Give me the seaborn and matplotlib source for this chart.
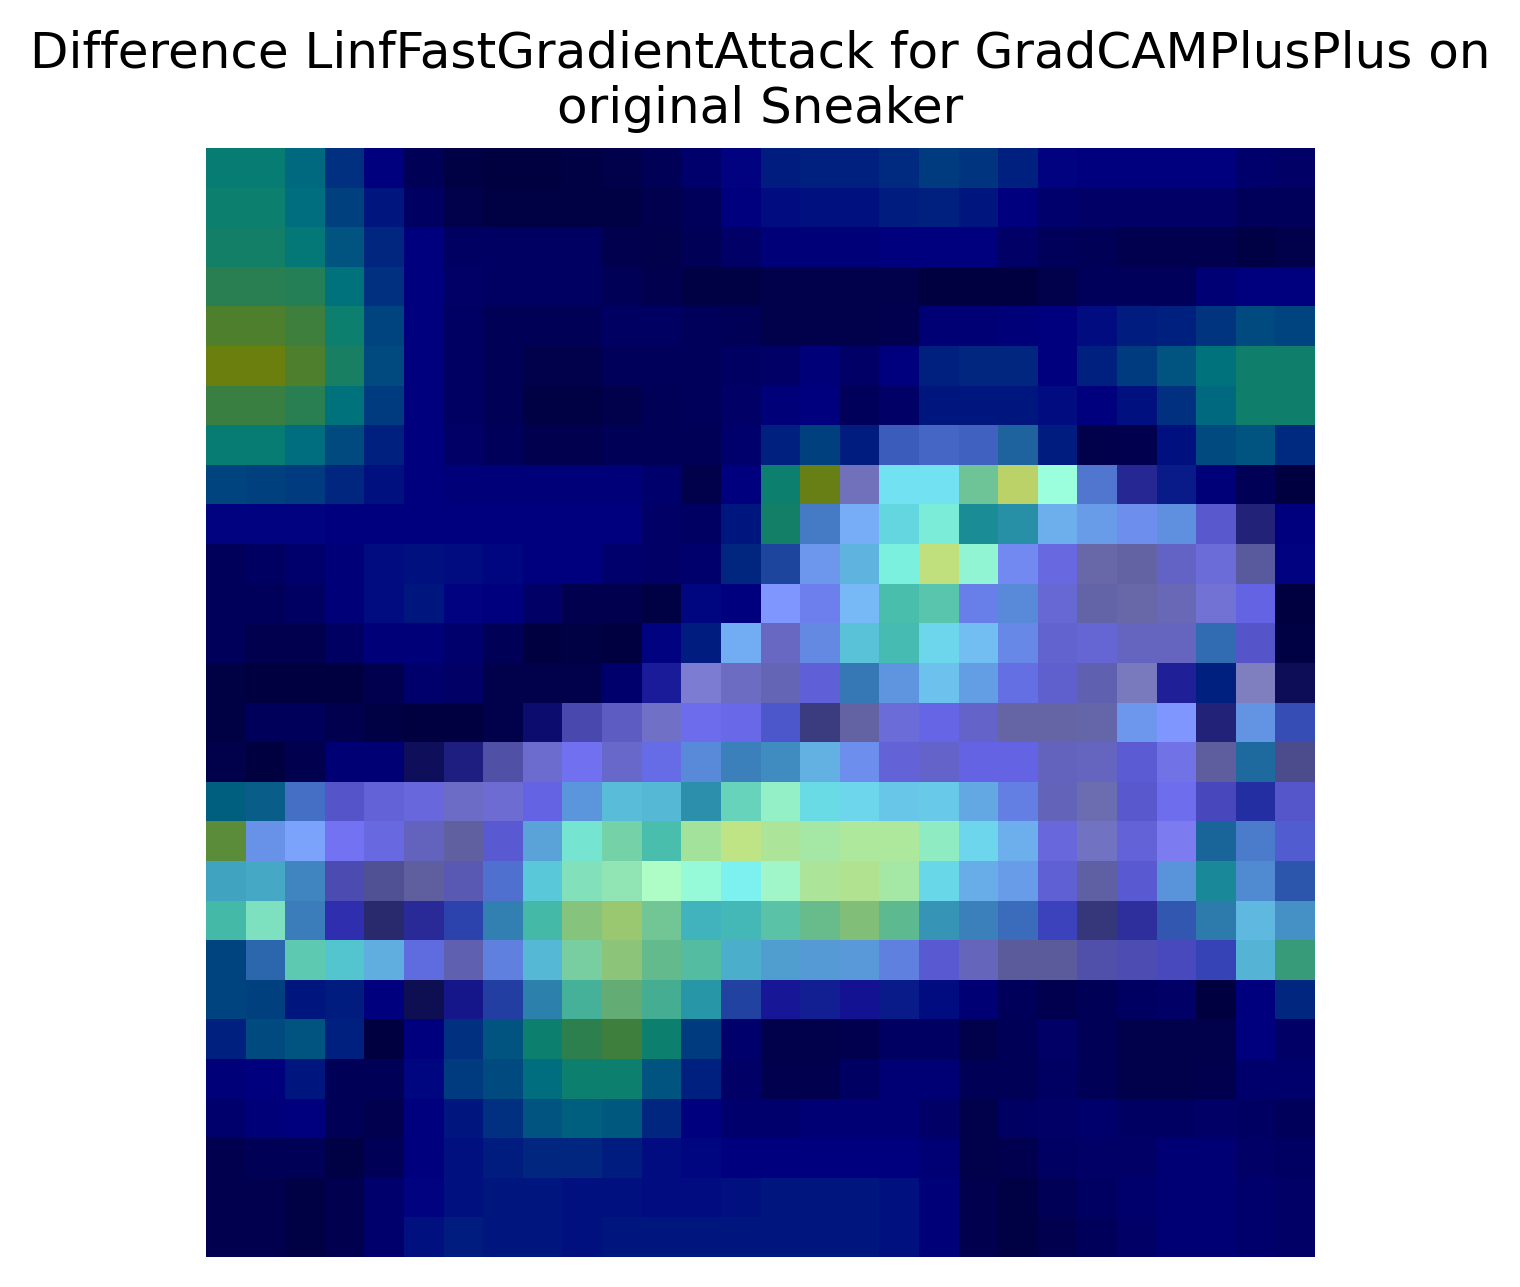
import matplotlib
matplotlib.use('Agg')
import matplotlib.pyplot as plt
import numpy as np
import seaborn as sns

title = 'Difference LinfFastGradientAttack for GradCAMPlusPlus on\noriginal Sneaker'

# Grad-CAM heat per cell (percent of the jet range)
heat = [
    [37,37,33,22,11,4,1,0,0,1,2,4,8,13,18,19,19,21,24,23,19,13,11,11,11,11,8,7],
    [38,38,34,25,17,6,2,1,1,1,1,3,5,11,15,16,16,18,19,17,11,8,7,7,7,7,5,5],
    [40,40,36,29,20,11,6,6,6,6,3,2,4,7,10,10,10,11,11,11,7,5,4,3,3,3,1,2],
    [45,45,44,35,22,11,7,6,6,6,4,3,1,1,2,2,2,2,0,0,0,2,5,5,5,9,11,11],
    [54,54,50,38,26,11,6,4,4,4,6,6,5,4,2,2,2,3,9,9,10,11,15,18,19,23,27,26],
    [61,61,54,41,27,11,6,4,2,2,5,5,5,6,7,10,7,11,19,20,20,12,19,24,29,35,39,39],
    [49,49,45,35,24,11,6,4,1,1,2,4,5,7,10,11,5,7,17,17,17,15,11,16,22,33,39,39],
    [37,37,34,27,19,11,7,5,3,3,4,4,4,8,19,25,18,19,19,19,26,18,2,3,16,27,29,21],
    [26,25,24,20,16,11,10,10,10,10,10,8,2,11,38,60,2,34,34,45,60,42,20,8,16,10,4,0],
    [13,13,13,12,12,11,11,11,11,11,11,7,6,17,40,23,23,35,39,35,33,25,23,19,22,9,4,11],
    [5,6,8,10,15,16,15,14,11,11,8,7,8,20,20,21,29,38,58,42,17,10,0,0,6,8,1,13],
    [5,5,6,10,15,17,13,11,7,3,3,1,14,11,17,16,25,38,40,17,22,8,1,0,3,6,11,0],
    [5,3,3,6,10,10,8,4,0,1,0,13,18,24,5,20,33,37,33,27,19,8,8,5,5,24,9,1],
    [1,0,0,0,3,8,7,2,2,2,8,13,4,4,3,10,25,23,29,24,15,8,3,1,10,19,0,2],
    [1,5,5,3,1,0,0,2,6,7,7,4,11,11,15,1,0,8,11,7,0,0,1,21,17,4,22,17],
    [2,0,3,9,9,2,6,4,6,11,6,14,22,26,27,28,19,9,7,11,11,5,5,10,9,0,27,0],
    [31,29,21,9,9,9,5,7,12,24,32,32,32,40,44,35,33,31,32,26,18,4,1,9,11,9,15,9],
    [54,21,20,12,10,5,0,10,27,39,44,38,51,57,52,50,52,52,44,33,25,9,3,9,9,27,22,15],
    [32,32,26,7,1,0,5,19,34,43,46,47,42,36,45,52,54,50,34,26,23,9,1,10,24,34,24,21],
    [38,42,25,11,1,8,17,28,38,51,55,46,35,36,41,46,51,44,31,26,22,14,1,8,20,28,30,27],
    [26,24,40,35,28,15,3,19,32,45,52,45,41,32,28,26,25,19,10,4,0,0,5,7,9,15,31,42],
    [26,25,17,18,11,1,9,18,29,40,48,41,34,19,12,15,12,16,15,9,5,3,4,6,7,0,11,20],
    [19,27,29,19,0,11,22,29,38,46,50,38,24,8,2,2,3,6,6,2,4,7,4,2,2,2,11,7],
    [10,12,17,4,4,14,24,27,34,38,38,29,19,7,3,3,6,9,9,4,4,6,4,2,2,3,8,8],
    [8,10,11,4,3,11,17,22,29,31,30,20,12,8,8,9,9,9,7,2,6,7,8,6,6,7,6,5],
    [3,4,4,1,4,11,16,18,20,20,18,15,14,12,12,12,12,12,9,2,3,6,7,7,9,9,7,6],
    [3,3,1,3,8,13,16,17,17,16,16,15,15,16,17,17,17,16,10,3,1,4,6,8,9,9,8,7],
    [3,3,1,3,8,16,18,17,17,16,17,17,17,17,17,17,17,16,10,3,1,3,5,7,9,9,8,7],
]

# Gray level of the underlying image (percent)
image = [
    [0,0,0,0,0,0,0,0,0,0,0,0,0,0,0,0,0,0,0,0,0,0,0,0,0,0,0,0],
    [0,0,0,0,0,0,0,0,0,0,0,0,0,0,0,0,0,0,0,0,0,0,0,0,0,0,0,0],
    [0,0,0,0,0,0,0,0,0,0,0,0,0,0,0,0,0,0,0,0,0,0,0,0,0,0,0,0],
    [0,0,0,0,0,0,0,0,0,0,0,0,0,0,0,0,0,0,0,0,0,0,0,0,0,0,0,0],
    [0,0,0,0,0,0,0,0,0,0,0,0,0,0,0,0,0,0,0,0,0,0,0,0,0,0,0,0],
    [0,0,0,0,0,0,0,0,0,0,0,0,0,0,0,0,0,0,0,0,0,0,0,0,0,0,0,0],
    [0,0,0,0,0,0,0,0,0,0,0,0,0,0,0,0,0,0,0,0,0,0,0,0,0,0,0,0],
    [0,0,0,0,0,0,0,0,0,0,0,0,0,0,0,0,0,47,55,51,24,0,0,0,0,0,0,0],
    [0,0,0,0,0,0,0,0,0,0,0,0,0,0,0,0,88,90,90,54,65,100,63,31,8,0,0,0],
    [0,0,0,0,0,0,0,0,0,0,0,0,0,0,0,55,94,78,85,20,31,86,82,86,75,70,27,0],
    [0,0,0,0,0,0,0,0,0,0,0,0,0,0,24,86,75,88,76,92,90,82,82,78,78,85,70,0],
    [0,0,0,0,0,0,0,0,0,0,0,0,0,0,100,86,94,49,55,82,70,82,78,82,82,90,78,0],
    [0,0,0,0,0,0,0,0,0,0,0,0,0,90,82,78,70,49,86,90,82,78,80,80,80,39,67,0],
    [0,0,0,0,0,0,0,0,0,0,0,20,98,85,80,75,43,75,86,78,78,75,76,95,25,0,100,10],
    [0,0,0,0,0,0,0,0,10,57,73,88,85,82,59,47,78,85,80,78,80,80,80,86,100,27,78,43],
    [0,0,0,0,0,12,24,63,85,88,82,80,70,47,51,78,86,78,78,78,78,78,80,72,90,74,24,60],
    [0,8,55,67,78,82,85,85,78,72,70,67,35,66,88,82,86,82,82,78,78,78,85,70,86,57,27,68],
    [10,82,98,90,82,78,76,70,70,80,64,49,77,79,80,81,82,82,84,86,86,82,90,78,98,20,59,63],
    [51,55,51,59,63,75,70,63,70,76,79,98,96,95,93,80,77,81,82,82,82,76,75,70,70,20,63,35],
    [45,76,47,37,33,33,35,39,45,54,57,55,51,50,52,47,50,45,43,47,47,47,43,37,39,35,75,55],
    [0,35,58,65,75,75,76,75,67,62,55,46,48,59,63,67,70,75,70,80,72,72,63,60,58,43,67,21],
    [0,0,0,0,0,12,18,27,35,39,36,36,31,27,18,15,15,8,0,0,0,0,0,0,0,0,0,0],
    [0,0,0,0,0,0,0,0,0,0,0,0,0,0,0,0,0,0,0,0,0,0,0,0,0,0,0,0],
    [0,0,0,0,0,0,0,0,0,0,0,0,0,0,0,0,0,0,0,0,0,0,0,0,0,0,0,0],
    [0,0,0,0,0,0,0,0,0,0,0,0,0,0,0,0,0,0,0,0,0,0,0,0,0,0,0,0],
    [0,0,0,0,0,0,0,0,0,0,0,0,0,0,0,0,0,0,0,0,0,0,0,0,0,0,0,0],
    [0,0,0,0,0,0,0,0,0,0,0,0,0,0,0,0,0,0,0,0,0,0,0,0,0,0,0,0],
    [0,0,0,0,0,0,0,0,0,0,0,0,0,0,0,0,0,0,0,0,0,0,0,0,0,0,0,0],
]

W, H = 1520, 1287
fig = plt.figure(figsize=(W / 300, H / 300), dpi=300)
# axes box in pixels: x 206-1315, y 148-1257
ax = fig.add_axes([206 / W, 1 - 1257 / H, 1109 / W, 1109 / H])

# image underneath, heat on top at half opacity
sns.heatmap(np.array(image), ax=ax, cmap='gray', vmin=0, vmax=100, cbar=False,
            xticklabels=False, yticklabels=False)
sns.heatmap(np.array(heat), ax=ax, cmap='jet', vmin=0, vmax=100, alpha=0.5, cbar=False,
            xticklabels=False, yticklabels=False)

ax.set_title(title, fontsize=12)
ax.set_xlabel('')
ax.set_ylabel('')
ax.tick_params(left=False, bottom=False)

fig.savefig('out.png', dpi=300)
